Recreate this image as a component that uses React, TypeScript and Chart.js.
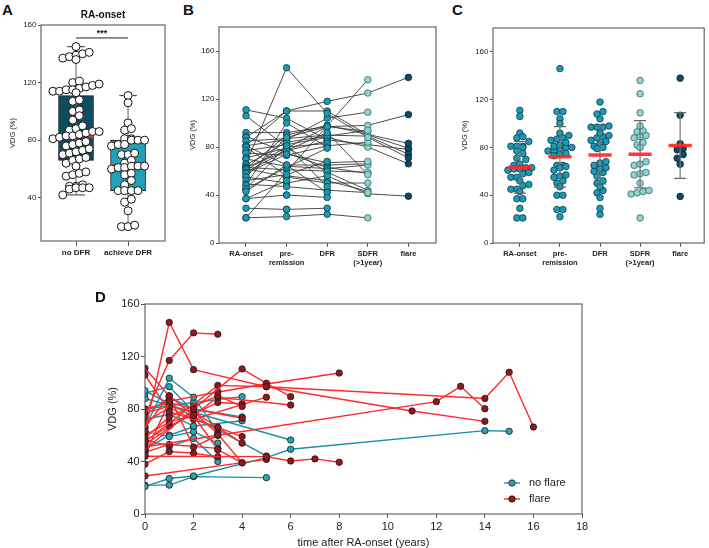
import React, { useEffect, useRef } from 'react';
import { Chart, registerables } from 'chart.js';

Chart.register(...registerables);

const FONT = "'Liberation Sans', Arial, Helvetica, sans-serif";

// ---------- Panel A data ----------
const groupsA = ['no DFR', 'achieve DFR'];
const noDFR = [145, 141, 140, 139, 138, 137, 136, 121, 120, 119, 118, 117, 116, 115, 115, 114, 114, 113, 108, 107, 101, 100, 97, 94, 90, 88, 87, 86, 86, 85, 84, 83, 83, 82, 81, 79, 78, 77, 76, 74, 73, 72, 71, 70, 68, 67, 66, 64, 62, 58, 57, 56, 55, 49, 48, 48, 47, 47, 47, 46, 42];
const achieveDFR = [111, 106, 92, 88, 87, 81, 81, 80, 80, 80, 77, 77, 76, 71, 70, 70, 66, 64, 62, 62, 62, 61, 61, 60, 57, 56, 52, 49, 45, 45, 45, 45, 39, 37, 31, 21, 20, 20];
const boxQ1 = [66, 45];
const boxMedian = [83, 62];
const boxQ3 = [111, 80];
const whiskerMin = [42, 20];
const whiskerMax = [145, 111];
const sigLevel = 151;
const ticksA = [40, 80, 120, 160];

// ---------- Panel B / C data ----------
const stages = [['RA-onset'], ['pre-', 'remission'], ['DFR'], ['SDFR', '(>1year)'], ['flare']];
// each row: RA-onset, pre-remission, DFR, SDFR(>1year), flare
const patients: (number | null)[][] = [
  [111, 104, 86, 82, 78],
  [106, 80, 59, 44, null],
  [92, 92, 97, 93, null],
  [89, 75, 63, 58, null],
  [88, 110, 118, 125, 138],
  [85, 87, 90, 89, 74],
  [81, 65, 65, 66, null],
  [81, 86, 104, 109, null],
  [81, 110, 110, 90, 79],
  [80, 56, 52, 43, null],
  [77, 82, 88, 80, 66],
  [75, 73, 81, 84, null],
  [71, 79, 97, 98, 107],
  [70, 64, 62, 65, null],
  [66, 146, 108, 88, 71],
  [65, 84, 89, 94, null],
  [63, 77, 85, null, null],
  [63, 61, 60, 59, null],
  [62, 90, 98, null, 83],
  [62, 55, 50, 50, null],
  [61, 80, 83, null, null],
  [59, 77, 92, 57, null],
  [58, 74, 67, 68, null],
  [55, 50, 56, 41, 39],
  [55, 88, 97, null, null],
  [52, 57, 68, null, null],
  [49, 47, 44, 42, null],
  [48, 100, 80, null, null],
  [45, 63, 79, null, null],
  [45, 81, 47, null, null],
  [43, 65, 42, null, null],
  [37, 40, 38, null, null],
  [21, null, null, 136, null],
  [21, 22, 24, 21, null],
  [29, 28, 29, null, null],
  [37, 52, null, null, null],
  [null, 40, null, null, null],
  [null, 28, null, null, null],
];
const ticksBC = [0, 40, 80, 120, 160];

// ---------- Panel D data ----------
const noFlareYears = [
  [0, 1, 2, 5, 6, 14, 15],
  [0, 1, 2, 5],
  [0, 1, 2, 3],
  [0, 5],
  [0, 1, 2],
  [0, 6],
  [0, 2, 4],
  [0, 1, 2, 4],
  [0, 1, 2, 3],
  [0, 1, 2, 3],
  [0, 1, 2],
  [0, 1, 2, 4],
];
const noFlareVDG = [
  [21, 27, 29, 43, 49.3, 63.5, 63],
  [22, 22, 28.5, 27.7],
  [66, 103.4, 89, 63],
  [94, 44.2],
  [92, 97, 78],
  [88, 56.4],
  [80, 85, 89.4],
  [72, 76, 67, 71],
  [63, 59, 62.7, 54],
  [57, 51.4, 57.6, 40],
  [49, 60, 66.5],
  [75, 89, 80, 74],
];
const flareYears = [
  [0, 1, 2, 5, 14, 15, 16],
  [0, 1, 2, 3],
  [0, 1, 2, 3, 4],
  [0, 1, 3, 4],
  [0, 2, 4, 5, 6],
  [0, 1, 3, 5, 8],
  [0, 3, 5, 11, 14],
  [0, 3, 12, 13, 14],
  [0, 5, 6, 7, 8],
  [0, 5],
  [0, 1, 2, 3],
  [0, 1, 2, 3, 4],
  [0, 1, 2, 3, 4],
  [0, 1, 2, 3, 6],
  [0, 1, 2, 4],
  [0, 1, 2, 3],
  [0, 1, 3, 4],
  [0, 2, 3, 4],
  [0, 1, 2, 5],
  [0, 1, 3],
];
const flareVDG = [
  [63, 146, 110, 97, 88, 108, 66.3],
  [75, 117, 138, 137],
  [111, 90, 75, 49, 39],
  [106, 78, 66, 59],
  [49, 80, 110.5, 99.6, 89.4],
  [45, 86, 93, 99, 107.4],
  [55, 98, 97, 78.5, 70.6],
  [51, 60, 85.6, 97.3, 80.2],
  [44, 43.7, 40.4, 42, 39.4],
  [29, 41.6],
  [38, 47.6, 46.3, 43.7],
  [58, 74, 82, 90, 82],
  [77, 82, 78, 66, 54],
  [60, 70, 75, 89, 83],
  [80, 85, 80, 73],
  [66, 90, 51, 60],
  [56, 67, 85, 84],
  [53, 78, 61, 39],
  [70, 81, 72, 89],
  [47, 53, 50],
];
const legendD = ['no flare', 'flare'];

// ---------- colours ----------
const C_DARKBOX = '#0f4c62';
const C_LIGHTBOX = '#1fa2b9';
const C_RED = '#ff2a2a';
const C_TEAL = '#1d9bb2';
const C_TEAL_BORDER = '#0b3b47';
const C_SDFR = '#8fd2cf';
const C_SDFR_BORDER = '#2d6b6b';
const C_FLARE = '#0f4a60';
const C_FLARE_BORDER = '#06222c';
const C_AXIS = '#555';
const C_TEXT = '#222';
const D_TEAL_LINE = '#1a90a5';
const D_TEAL_PT = '#27a6bb';
const D_RED_LINE = '#ff2b2b';
const D_RED_PT = '#8c1a22';

const stageFill = [C_TEAL, C_TEAL, C_TEAL, C_SDFR, C_FLARE];
const stageBorder = [C_TEAL_BORDER, C_TEAL_BORDER, C_TEAL_BORDER, C_SDFR_BORDER, C_FLARE_BORDER];

// ---------- helpers ----------
// row-binned scatter layout (points in the same row spread side by side around the category)
function swarm(values: number[], center: number, pxY: number, pxX: number, rowH: number, spacing: number) {
  const rows = new Map<number, number[]>();
  values.forEach((v) => {
    const r = Math.round((v * pxY) / rowH);
    if (!rows.has(r)) rows.set(r, []);
    rows.get(r)!.push(v);
  });
  const out: { x: number; y: number }[] = [];
  rows.forEach((vs) => {
    vs.sort((a, b) => a - b);
    const n = vs.length;
    vs.forEach((v, j) => {
      const off = (j - (n - 1) / 2) * spacing;
      out.push({ x: center + off / pxX, y: v });
    });
  });
  return out;
}

function mean(a: number[]) { return a.reduce((s, v) => s + v, 0) / a.length; }
function sd(a: number[]) {
  const m = mean(a);
  return Math.sqrt(a.reduce((s, v) => s + (v - m) * (v - m), 0) / (a.length - 1));
}

const framePlugin = {
  id: 'frame',
  beforeDatasetsDraw(chart: any) {
    const { ctx, chartArea } = chart;
    ctx.save();
    ctx.strokeStyle = '#666';
    ctx.lineWidth = 1.2;
    ctx.strokeRect(chartArea.left, chartArea.top, chartArea.right - chartArea.left, chartArea.bottom - chartArea.top);
    ctx.restore();
  },
};

function seg(x1: number, y1: number, x2: number, y2: number, color: string, width: number, order: number) {
  return {
    type: 'line',
    data: [{ x: x1, y: y1 }, { x: x2, y: y2 }],
    borderColor: color,
    borderWidth: width,
    pointRadius: 0,
    fill: false,
    order,
  };
}

function catAxis(labels: any[], min: number, max: number, h: number, size: number, tickLen: number, pad: number) {
  return {
    type: 'linear',
    min,
    max,
    offset: false,
    afterFit: (s: any) => { s.height = h; },
    afterBuildTicks: (s: any) => { s.ticks = labels.map((_: any, i: number) => ({ value: i })); },
    ticks: {
      callback: (v: number) => labels[v],
      font: { family: FONT, size, weight: 'bold', lineHeight: 1.25 },
      color: C_TEXT,
      padding: pad,
      maxRotation: 0,
      autoSkip: false,
    },
    grid: { display: true, offset: false, drawOnChartArea: false, drawTicks: true, tickLength: tickLen, color: C_AXIS, lineWidth: 1 },
    border: { display: false },
  };
}

function valAxis(ticks: number[], min: number, max: number, w: number, size: number, titleSize: number, titlePad: number, tickLen: number, pad: number) {
  return {
    type: 'linear',
    min,
    max,
    afterFit: (s: any) => { s.width = w; },
    afterBuildTicks: (s: any) => { s.ticks = ticks.map((v) => ({ value: v })); },
    ticks: { font: { family: FONT, size }, color: C_TEXT, padding: pad },
    title: { display: true, text: 'VDG (%)', font: { family: FONT, size: titleSize }, color: C_TEXT, padding: { top: titlePad, bottom: 0 } },
    grid: { display: true, drawOnChartArea: false, drawTicks: true, tickLength: tickLen, color: C_AXIS, lineWidth: 1 },
    border: { display: false },
  };
}

const baseOptions = (padR: number, padT: number) => ({
  responsive: false,
  animation: false,
  layout: { padding: { left: 0, right: padR, top: padT, bottom: 0 } },
  plugins: { legend: { display: false }, tooltip: { enabled: false } },
  events: [],
});

// ---------- chart configs ----------
function makeA() {
  const pxY = 216 / 150;
  const pxX = 52;
  const pts = [
    ...swarm(noDFR, 0, pxY, pxX, 8, 6.6),
    ...swarm(achieveDFR, 1, pxY, pxX, 8, 6.6),
  ];
  const ds: any[] = [
    {
      type: 'scatter',
      data: pts,
      pointRadius: 4,
      pointBackgroundColor: '#ffffff',
      pointBorderColor: '#111',
      pointBorderWidth: 1,
      order: 0,
    },
  ];
  groupsA.forEach((_, i) => {
    ds.push(seg(i - 0.335, boxMedian[i], i + 0.335, boxMedian[i], C_RED, 3.5, 1));
    ds.push(seg(i, whiskerMin[i], i, whiskerMax[i], '#7a7a7a', 1.2, 2));
    ds.push(seg(i - 0.17, whiskerMax[i], i + 0.17, whiskerMax[i], '#555', 1.2, 2));
    ds.push(seg(i - 0.17, whiskerMin[i], i + 0.17, whiskerMin[i], '#555', 1.2, 2));
  });
  ds.push(seg(0, sigLevel, 1, sigLevel, '#222', 1, 2));
  ds.push({
    type: 'bar',
    data: groupsA.map((_, i) => ({ x: i, y: [boxQ1[i], boxQ3[i]] })),
    backgroundColor: [C_DARKBOX, C_LIGHTBOX],
    borderColor: '#1a1a1a',
    borderWidth: 1,
    borderSkipped: false,
    barThickness: 35,
    grouped: false,
    order: 5,
  });
  return {
    type: 'scatter',
    data: { datasets: ds },
    options: {
      ...baseOptions(7, 7),
      scales: {
        x: catAxis(groupsA, -0.673, 1.71, 39, 8, 5, 2),
        y: valAxis(ticksA, 10, 160, 41, 8, 7.5, 8.5, 3, 1.5),
      },
    },
    plugins: [framePlugin],
  };
}

function makeB() {
  const ds: any[] = [];
  const allPts: { x: number; y: number }[] = [];
  patients.forEach((row) => {
    const d: { x: number; y: number }[] = [];
    row.forEach((v, i) => { if (v !== null) d.push({ x: i, y: v }); });
    allPts.push(...d);
    ds.push({
      type: 'line',
      data: d,
      borderColor: '#3a3a3a',
      borderWidth: 0.9,
      pointRadius: 0,
      fill: false,
      order: 2,
    });
  });
  ds.unshift({
    type: 'scatter',
    data: allPts,
    pointRadius: 3.3,
    pointBackgroundColor: (c: any) => stageFill[c.raw ? c.raw.x : 0],
    pointBorderColor: (c: any) => stageBorder[c.raw ? c.raw.x : 0],
    pointBorderWidth: 0.8,
    order: 0,
  });
  return {
    type: 'scatter',
    data: { datasets: ds },
    options: {
      ...baseOptions(6, 9),
      scales: {
        x: catAxis(stages, -0.665, 4.68, 37, 7.5, 4, 2),
        y: valAxis(ticksBC, 0, 180, 39, 8, 7.5, 8.5, 3, 1.5),
      },
    },
    plugins: [framePlugin],
  };
}

function makeC() {
  const pxY = 215 / 180;
  const pxX = 40.4;
  const cols = stages.map((_, i) => patients.map((r) => r[i]).filter((v) => v !== null) as number[]);
  const ds: any[] = [];
  cols.forEach((vals, i) => {
    const m = mean(vals);
    const s = sd(vals);
    ds.push(seg(i - 0.29, m, i + 0.29, m, 'rgba(255,40,40,0.92)', 3.5, 0));
    ds.push(seg(i, m - s, i, m + s, '#777', 1.2, 1));
    ds.push(seg(i - 0.15, m + s, i + 0.15, m + s, '#666', 1.2, 1));
    ds.push(seg(i - 0.15, m - s, i + 0.15, m - s, '#666', 1.2, 1));
    ds.push({
      type: 'scatter',
      data: swarm(vals, i, pxY, pxX, 6.2, 6),
      pointRadius: 3.3,
      pointBackgroundColor: stageFill[i],
      pointBorderColor: stageBorder[i],
      pointBorderWidth: 0.8,
      order: 3,
    });
  });
  return {
    type: 'scatter',
    data: { datasets: ds },
    options: {
      ...baseOptions(3, 10),
      scales: {
        x: catAxis(stages, -0.67, 4.6, 37, 7.5, 4, 2),
        y: valAxis(ticksBC, 0, 180, 43, 8, 7.5, 10.5, 3, 1.5),
      },
    },
    plugins: [framePlugin],
  };
}

function makeD() {
  const ds: any[] = [];
  const mk = (years: number[][], vals: number[][], line: string, pt: string, order: number) => {
    years.forEach((ys, k) => {
      ds.push({
        type: 'line',
        data: ys.map((t, j) => ({ x: t, y: vals[k][j] })),
        borderColor: line,
        borderWidth: 1.4,
        pointRadius: 3.2,
        pointBackgroundColor: pt,
        pointBorderColor: '#2a1010',
        pointBorderWidth: 0.8,
        fill: false,
        order,
      });
    });
  };
  mk(flareYears, flareVDG, D_RED_LINE, D_RED_PT, 1);
  mk(noFlareYears, noFlareVDG, D_TEAL_LINE, D_TEAL_PT, 2);

  const legendPlugin = {
    id: 'legendD',
    afterDraw(chart: any) {
      const { ctx, chartArea } = chart;
      const items = [
        { label: legendD[0], line: D_TEAL_LINE, pt: D_TEAL_PT, dy: 31 },
        { label: legendD[1], line: D_RED_LINE, pt: D_RED_PT, dy: 15 },
      ];
      ctx.save();
      items.forEach((it) => {
        const y = chartArea.bottom - it.dy;
        const x0 = chartArea.right - 78;
        ctx.strokeStyle = it.line;
        ctx.lineWidth = 1.4;
        ctx.beginPath();
        ctx.moveTo(x0, y);
        ctx.lineTo(x0 + 16, y);
        ctx.stroke();
        ctx.beginPath();
        ctx.arc(x0 + 8, y, 3.2, 0, Math.PI * 2);
        ctx.fillStyle = it.pt;
        ctx.fill();
        ctx.strokeStyle = '#2a1010';
        ctx.lineWidth = 0.8;
        ctx.stroke();
        ctx.fillStyle = C_TEXT;
        ctx.font = `11px ${FONT}`;
        ctx.textBaseline = 'middle';
        ctx.textAlign = 'left';
        ctx.fillText(it.label, chartArea.right - 53, y);
      });
      ctx.restore();
    },
  };

  return {
    type: 'scatter',
    data: { datasets: ds },
    options: {
      ...baseOptions(16, 14),
      scales: {
        x: {
          type: 'linear',
          min: 0,
          max: 18,
          afterFit: (s: any) => { s.height = 38; },
          afterBuildTicks: (s: any) => { s.ticks = [0, 2, 4, 6, 8, 10, 12, 14, 16, 18].map((v) => ({ value: v })); },
          ticks: { font: { family: FONT, size: 11 }, color: C_TEXT, padding: 2.5 },
          title: { display: true, text: 'time after RA-onset (years)', font: { family: FONT, size: 11 }, color: C_TEXT, padding: { top: 0, bottom: 2.4 } },
          grid: { display: true, drawOnChartArea: false, drawTicks: true, tickLength: 4, color: C_AXIS },
          border: { display: false },
        },
        y: valAxis([0, 40, 80, 120, 160], 0, 160, 47, 11, 11, 8.4, 4, 1.5),
      },
    },
    plugins: [framePlugin, legendPlugin],
  };
}

function ChartBox(props: { left: number; top: number; width: number; height: number; make: () => any }) {
  const ref = useRef<HTMLCanvasElement>(null);
  useEffect(() => {
    const chart = new Chart(ref.current as HTMLCanvasElement, props.make());
    return () => chart.destroy();
  }, []);
  return (
    <canvas
      ref={ref}
      width={props.width}
      height={props.height}
      style={{ position: 'absolute', left: props.left, top: props.top, width: props.width, height: props.height }}
    />
  );
}

const letterStyle: React.CSSProperties = {
  position: 'absolute',
  fontFamily: FONT,
  fontWeight: 'bold',
  fontSize: 15,
  lineHeight: '15px',
  color: '#111',
};

export default function App() {
  return (
    <div style={{ position: 'fixed', left: 0, top: 0, width: 709, height: 548, background: '#fff', overflow: 'hidden' }}>
      <ChartBox left={0} top={18} width={172} height={262} make={makeA} />
      <ChartBox left={180} top={18} width={262} height={262} make={makeB} />
      <ChartBox left={450} top={18} width={259} height={262} make={makeC} />
      <ChartBox left={98} top={290} width={500} height={262} make={makeD} />
      <div style={{ ...letterStyle, left: 2, top: 2 }}>A</div>
      <div style={{ ...letterStyle, left: 183, top: 2 }}>B</div>
      <div style={{ ...letterStyle, left: 452, top: 2 }}>C</div>
      <div style={{ ...letterStyle, left: 95, top: 289 }}>D</div>
      <div style={{ position: 'absolute', left: 41, width: 124, top: 9, textAlign: 'center', fontFamily: FONT, fontWeight: 'bold', fontSize: 10, lineHeight: '12px', color: '#111' }}>RA-onset</div>
      <div style={{ position: 'absolute', left: 76, width: 52, top: 28, textAlign: 'center', fontFamily: FONT, fontWeight: 'bold', fontSize: 9, lineHeight: '10px', color: '#111' }}>***</div>
    </div>
  );
}
